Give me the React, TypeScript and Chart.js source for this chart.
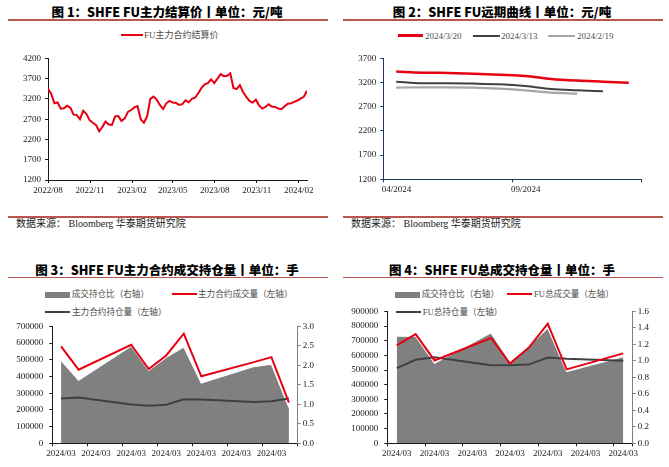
import React, { useEffect, useRef } from 'react';
import { Chart, registerables } from 'chart.js';
Chart.register(...registerables);

// ---------------- data ----------------
const fig1StartDate = '2022-08-01'; // weekly observations
const fig1Values = [
  3450, 3330, 3090, 3110, 2960, 2967, 3030, 2980, 2810, 2800,
  2700, 2905, 2830, 2675, 2610, 2555, 2400, 2510, 2640, 2570,
  2560, 2765, 2775, 2655, 2720, 2880, 2925, 2990, 3020, 2700,
  2610, 2770, 3200, 3255, 3180, 3050, 2950, 3090, 3150, 3110,
  3100, 3050, 3070, 3165, 3115, 3200, 3230, 3337, 3470, 3557,
  3585, 3680, 3590, 3700, 3810, 3760, 3770, 3830, 3470, 3440,
  3540, 3370, 3250, 3150, 3107, 3180, 3040, 2960, 3000, 3065,
  3010, 3000, 2960, 2945, 3020, 3080, 3090, 3125, 3160, 3205,
  3250, 3400,
];
const fig1TickLabels = ['2022/08', '2022/11', '2023/02', '2023/05', '2023/08', '2023/11', '2024/02'];

const fig2Months = ['2024/04', '2024/05', '2024/06', '2024/07', '2024/08', '2024/09', '2024/10', '2024/11', '2024/12', '2025/01'];
const fig2Curve0320 = [3425, 3404, 3397, 3383, 3362, 3335, 3273, 3239, 3218, 3197];
const fig2Curve0313 = [3218, 3183, 3183, 3177, 3163, 3128, 3066, 3039, 3018];
const fig2Curve0219 = [3094, 3101, 3101, 3094, 3073, 3039, 2991, 2970];
const fig2TickLabels = ['04/2024', '09/2024'];

const fig3Dates = ['2024-03-07', '2024-03-08', '2024-03-11', '2024-03-12', '2024-03-13', '2024-03-14', '2024-03-15', '2024-03-18', '2024-03-19', '2024-03-20'];
const fig3Volume = [580000, 441000, 590000, 445000, 526000, 657000, 401000, 486000, 516000, 243000];
const fig3OpenInterest = [268000, 273600, 233000, 225400, 231200, 264000, 262000, 246600, 252400, 267800];
const fig3Ratio = [2.13, 1.62, 2.5, 1.87, 2.21, 2.47, 1.55, 1.97, 2.03, 0.92];

const fig4Dates = ['2024-03-06', '2024-03-07', '2024-03-08', '2024-03-11', '2024-03-12', '2024-03-13', '2024-03-14', '2024-03-15', '2024-03-18'];
const fig4Volume = [668000, 744500, 565500, 718300, 543700, 652800, 816600, 504400, 613500];
const fig4OpenInterest = [513100, 569900, 587300, 532800, 532800, 537100, 585200, 576400, 563300];
const fig4Ratio = [1.3, 1.3, 0.97, 1.34, 0.99, 1.18, 1.4, 0.87, 1.05];

// ---------------- styles ----------------
const SERIF = '"Liberation Serif", "Times New Roman", "Noto Sans CJK SC", serif';
const TITLE_FONT = '"Noto Sans CJK SC", "Noto Sans", sans-serif';
const RED = '#e60012';
const DARK = '#404040';
const LIGHT = '#a6a6a6';
const AREA = '#808080';
const AXIS = '#1a1a1a';
const TICK_TEXT = '#1a1a1a';
const RULE = '#b9574f';
const LEGEND_TEXT = '#4d4d4d';

const DAY = 86400000;
const dayOffset = (d: string, start: string) => (Date.parse(d) - Date.parse(start)) / DAY;

function baseOptions(padding: any) {
  return {
    animation: false,
    responsive: false,
    devicePixelRatio: 1,
    layout: { padding },
    plugins: { legend: { display: false }, tooltip: { enabled: false }, title: { display: false } },
    elements: { point: { radius: 0 } },
  } as any;
}

function yAxis(width: number, min: number, max: number, step: number, position: 'left' | 'right', fmt: (v: number) => string, color = AXIS, pad = 4) {
  return {
    type: 'linear',
    position,
    min,
    max,
    afterFit: (s: any) => { s.width = width; },
    grid: { drawOnChartArea: false, drawTicks: true, tickLength: 3, color, tickColor: color },
    border: { display: true, color, width: 1 },
    ticks: { stepSize: step, padding: pad, color: TICK_TEXT, font: { family: SERIF, size: 9 }, callback: (v: any) => fmt(Number(v)) },
  } as any;
}

// ---------------- chart configs ----------------
function fig1Config() {
  const tickPos = fig1TickLabels.map((l) => dayOffset(l.replace('/', '-') + '-01', fig1StartDate) / 7);
  return {
    type: 'line',
    data: {
      datasets: [{
        data: fig1Values.map((v, i) => ({ x: i, y: v })),
        borderColor: RED, borderWidth: 2, pointRadius: 0, tension: 0,
      }],
    },
    options: {
      ...baseOptions({ left: 0, top: 13.3, right: 23, bottom: 12 }),
      scales: {
        x: {
          type: 'linear', min: 0, max: fig1Values.length - 1,
          afterBuildTicks: (s: any) => { s.ticks = tickPos.map((v) => ({ value: v })); },
          afterFit: (s: any) => { s.height = 18; },
          grid: { drawOnChartArea: false, tickLength: 3, color: AXIS, tickColor: AXIS },
          border: { display: true, color: AXIS },
          ticks: { autoSkip: false, maxRotation: 0, padding: 2, color: TICK_TEXT, font: { family: SERIF, size: 9 }, callback: (_v: any, i: number) => fig1TickLabels[i] },
        },
        y: yAxis(48, 1200, 4200, 500, 'left', (v) => String(v)),
      },
    },
  } as any;
}

function fig2Config() {
  const C2 = '#1f3864';
  const mk = (arr: number[], color: string, w: number) => ({
    data: arr.map((v, i) => ({ x: i + 0.5, y: v })),
    borderColor: color, borderWidth: w, pointRadius: 0, cubicInterpolationMode: 'monotone',
  });
  return {
    type: 'line',
    data: { datasets: [mk(fig2Curve0320, RED, 2.5), mk(fig2Curve0313, DARK, 2), mk(fig2Curve0219, LIGHT, 2.2)] },
    options: {
      ...baseOptions({ left: 0, top: 13.3, right: 23.3, bottom: 12.7 }),
      scales: {
        x: {
          type: 'linear', min: 0, max: fig2Months.length,
          afterBuildTicks: (s: any) => { s.ticks = [0, 5, fig2Months.length].map((v) => ({ value: v })); },
          afterFit: (s: any) => { s.height = 18; },
          grid: { drawOnChartArea: false, tickLength: 3, color: C2, tickColor: C2 },
          border: { display: true, color: C2 },
          ticks: { autoSkip: false, maxRotation: 0, align: 'start', labelOffset: -1.5, padding: 2, color: TICK_TEXT, font: { family: SERIF, size: 9 }, callback: (_v: any, i: number) => fig2TickLabels[i] || '' },
        },
        y: yAxis(48.3, 1200, 3700, 500, 'left', (v) => String(v), C2),
      },
    },
  } as any;
}

function dayXAxis(dates: string[], maxDay: number) {
  const start = dates[0];
  const vals: number[] = [];
  for (let v = -0.5; v <= maxDay + 1e-6; v += 2) vals.push(v);
  if (vals[vals.length - 1] < maxDay - 1e-6) vals.push(maxDay);
  for (let v = 0; v <= maxDay - 0.5; v += 2) vals.push(v);
  vals.sort((a, b) => a - b);
  const labelFor = (v: number) => {
    const d = new Date(Date.parse(start) + v * DAY);
    return d.getUTCFullYear() + '/' + String(d.getUTCMonth() + 1).padStart(2, '0');
  };
  return {
    type: 'linear', min: -0.5, max: maxDay,
    afterBuildTicks: (s: any) => { s.ticks = vals.map((v) => ({ value: v })); },
    afterFit: (s: any) => { s.height = 18; },
    grid: {
      drawOnChartArea: false, tickLength: 3, color: AXIS,
      tickColor: (ctx: any) => (ctx.tick && Number.isInteger(ctx.tick.value) ? 'rgba(0,0,0,0)' : AXIS),
    },
    border: { display: true, color: AXIS },
    ticks: { autoSkip: false, maxRotation: 0, padding: 2, color: TICK_TEXT, font: { family: SERIF, size: 9 }, callback: (v: any) => (Number.isInteger(Number(v)) ? labelFor(Number(v)) : '') },
  } as any;
}

function volConfig(dates: string[], vol: number[], oi: number[], ratio: number[], leftMax: number, rightMax: number, rightStep: number, padding: any, rightWidth: number) {
  const xs = dates.map((d) => dayOffset(d, dates[0]));
  const maxDay = xs[xs.length - 1] + 0.5;
  return {
    type: 'line',
    data: {
      datasets: [
        { data: vol.map((v, i) => ({ x: xs[i], y: v })), yAxisID: 'y', borderColor: RED, borderWidth: 2, pointRadius: 0, tension: 0, order: 0 },
        { data: oi.map((v, i) => ({ x: xs[i], y: v })), yAxisID: 'y', borderColor: DARK, borderWidth: 2, pointRadius: 0, tension: 0, order: 1 },
        { data: ratio.map((v, i) => ({ x: xs[i], y: v })), yAxisID: 'y1', borderColor: '#ffffff', borderWidth: 1.2, backgroundColor: AREA, fill: 'origin', pointRadius: 0, tension: 0, order: 2 },
      ],
    },
    options: {
      ...baseOptions(padding),
      scales: {
        x: dayXAxis(dates, maxDay),
        y: yAxis(52.3, 0, leftMax, 100000, 'left', (v) => String(v), AXIS, 6),
        y1: yAxis(rightWidth, 0, rightMax, rightStep, 'right', (v) => v.toFixed(1), '#7f7f7f', 2),
      },
    },
  } as any;
}

// ---------------- components ----------------
function ChartBox({ left, top, width, height, make }: any) {
  const ref = useRef<HTMLCanvasElement>(null);
  useEffect(() => {
    const chart = new Chart(ref.current as HTMLCanvasElement, make());
    return () => chart.destroy();
  }, []);
  return (
    <div style={{ position: 'absolute', left, top, width, height }}>
      <canvas ref={ref} width={width} height={height} style={{ width, height, display: 'block' }} />
    </div>
  );
}

const abs = (left: number, top: number, extra: any = {}) => ({ position: 'absolute', left, top, ...extra } as any);

function Title({ left, centerY, text }: any) {
  return (
    <div style={abs(left, centerY - 9, { width: 334, textAlign: 'center', font: `900 12.5px ${TITLE_FONT}`, lineHeight: '18px', color: '#000', whiteSpace: 'nowrap' })}>{text}</div>
  );
}

function Rule({ left, y, width = 320 }: any) {
  return <div style={abs(left, y - 0.75, { width, height: 1.5, background: RULE })} />;
}

function LegendLine({ x1, x2, y, color, w = 2 }: any) {
  return <div style={abs(x1, y - w / 2, { width: x2 - x1, height: w, background: color })} />;
}

function LegendText({ x, y, text, size = 8.6 }: any) {
  return <div style={abs(x, y - 7, { font: `${size}px ${SERIF}`, lineHeight: '14px', color: LEGEND_TEXT, whiteSpace: 'nowrap' })}>{text}</div>;
}

function Source({ x, y }: any) {
  return <div style={abs(x, y - 7, { font: `10px ${SERIF}`, lineHeight: '14px', color: '#222', whiteSpace: 'nowrap' })}>数据来源： Bloomberg 华泰期货研究院</div>;
}

export default function App() {
  return (
    <div style={{ position: 'relative', width: 669, height: 467, background: '#fff', overflow: 'hidden' }}>
      <style>{'body{margin:0;background:#fff;}'}</style>

      {/* Figure 1 */}
      <Title left={0} centerY={12} text="图 1：SHFE FU主力结算价丨单位：元/吨" />
      <Rule left={8} y={20} />
      <LegendLine x1={121} x2={143} y={35} color={RED} />
      <LegendText x={144} y={35} text="FU主力合约结算价" size={9} />
      <ChartBox left={0} top={45} width={330} height={165} make={fig1Config} />
      <Rule left={8} y={217} />
      <Source x={16} y={224} />

      {/* Figure 2 */}
      <Title left={335} centerY={12} text="图 2：SHFE FU远期曲线丨单位：元/吨" />
      <Rule left={343} y={20} />
      <LegendLine x1={398} x2={423} y={35.7} color={RED} w={2.5} />
      <LegendText x={425} y={35.7} text="2024/3/20" size={9} />
      <LegendLine x1={473} x2={500} y={35.7} color={DARK} />
      <LegendText x={501} y={35.7} text="2024/3/13" size={9} />
      <LegendLine x1={548} x2={575} y={35.7} color={LIGHT} w={2.2} />
      <LegendText x={577} y={35.7} text="2024/2/19" size={9} />
      <ChartBox left={335} top={45} width={330} height={165} make={fig2Config} />
      <Rule left={343} y={217} />
      <Source x={351} y={224} />

      {/* Figure 3 */}
      <Title left={0} centerY={270} text="图 3：SHFE FU主力合约成交持仓量丨单位：手" />
      <Rule left={8} y={277.7} />
      <div style={abs(45, 291.5, { width: 25, height: 6, background: AREA })} />
      <LegendText x={71.7} y={294.3} text="成交持仓比（右轴）" />
      <LegendLine x1={171.7} x2={196.7} y={294.3} color={RED} />
      <LegendText x={198} y={294.3} text="主力合约成交量（左轴）" />
      <LegendLine x1={45} x2={70} y={311.7} color={DARK} />
      <LegendText x={72} y={311.7} text="主力合约持仓量（左轴）" />
      <ChartBox left={0} top={315} width={335} height={152}
        make={() => volConfig(fig3Dates, fig3Volume, fig3OpenInterest, fig3Ratio, 700000, 3, 0.5, { left: 0, top: 7.3, right: 0, bottom: 5.7 }, 37.3)} />

      {/* Figure 4 */}
      <Title left={335} centerY={270} text="图 4：SHFE FU总成交持仓量丨单位：手" />
      <Rule left={343} y={277.7} />
      <div style={abs(395, 291.5, { width: 25, height: 6, background: AREA })} />
      <LegendText x={421.7} y={294.3} text="成交持仓比（右轴）" />
      <LegendLine x1={506.7} x2={531.7} y={294.3} color={RED} />
      <LegendText x={534} y={294.3} text="FU总成交量（左轴）" />
      <LegendLine x1={396} x2={421} y={311.7} color={DARK} />
      <LegendText x={422.7} y={311.7} text="FU总持仓量（左轴）" />
      <ChartBox left={335} top={300} width={334} height={167}
        make={() => volConfig(fig4Dates, fig4Volume, fig4OpenInterest, fig4Ratio, 900000, 1.6, 0.2, { left: 0, top: 6, right: 0, bottom: 5.7 }, 36.3)} />
    </div>
  );
}
